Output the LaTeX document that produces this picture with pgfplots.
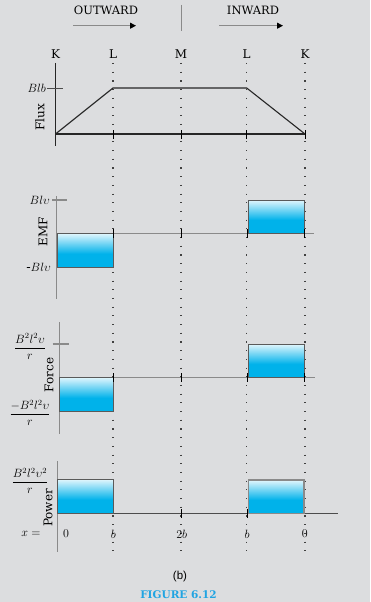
\documentclass[border=0pt]{standalone}
\usepackage{amsmath}
\usepackage{pgfplots}
\pgfplotsset{compat=1.18}
\usepackage{fontspec}
\setmainfont{DejaVu Serif}
\newfontfamily\sansf{Liberation Sans}
\usetikzlibrary{arrows.meta}
\definecolor{bgc}{HTML}{DCDDDF}
\definecolor{axg}{HTML}{8A8A8A}
\definecolor{edge}{HTML}{5A5A5A}
\definecolor{cL}{HTML}{E2F6FD}
\definecolor{cB}{HTML}{00B2EA}
\definecolor{figc}{HTML}{20A4E2}
\pgfdeclareverticalshading{barshade}{100bp}{color(0bp)=(cB); color(45bp)=(cB); color(75bp)=(cL); color(100bp)=(cL)}
\begin{document}
\begin{tikzpicture}
\begin{axis}[hide axis, scale only axis, width=370pt, height=602pt,
  xmin=0, xmax=370, ymin=0, ymax=602, y dir=reverse, clip=false,
  unbounded coords=jump]
\fill[bgc] (0,0) rectangle (370,602);
% header
\addplot[axg, line width=1pt, -{Triangle[length=6pt,width=6pt,color=black]}] coordinates {(73,25.7)(136,25.7)};
\addplot[axg, line width=1pt, -{Triangle[length=6pt,width=6pt,color=black]}] coordinates {(219,25.7)(283,25.7)};
\addplot[axg, line width=1pt] coordinates {(181,5)(181,31)};
\node[font=\fontsize{11.5}{13}\selectfont] at (106,10.7) {OUTWARD};
\node[font=\fontsize{11.5}{13}\selectfont] at (253,10.7) {INWARD};
\node[font=\fontsize{12}{14}\selectfont] at (55.7,54) {K};
\node[font=\fontsize{12}{14}\selectfont] at (113,54) {L};
\node[font=\fontsize{12}{14}\selectfont] at (181,54) {M};
\node[font=\fontsize{12}{14}\selectfont] at (246.7,54) {L};
\node[font=\fontsize{12}{14}\selectfont] at (305,54) {K};
% dotted guides
\addplot[black!75, line width=1.1pt, dash pattern=on 1.1pt off 7.6pt] coordinates {(113,63)(113,553)};
\addplot[black!75, line width=1.1pt, dash pattern=on 1.1pt off 7.6pt] coordinates {(181,63)(181,553)};
\addplot[black!75, line width=1.1pt, dash pattern=on 1.1pt off 7.6pt] coordinates {(246.7,63)(246.7,553)};
\addplot[black!75, line width=1.1pt, dash pattern=on 1.1pt off 7.6pt] coordinates {(305,63)(305,553)};
% ---- Flux
\addplot[black!85, line width=1.1pt] coordinates {(55.5,63)(55.5,146)};
\addplot[black!70, line width=1pt] coordinates {(47,88)(63,88)};
\addplot[black!85, line width=1.1pt] coordinates {(55.5,134)(305,134)};
\addplot[black!85, line width=1.1pt] coordinates {(55.5,134)(113,88)(246.7,88)(305,134)};
\addplot[black, line width=1pt] coordinates {(113,130)(113,138.5) (nan,nan) (181,130)(181,138.5) (nan,nan) (246.7,130)(246.7,138.5) (nan,nan) (305,130)(305,138.5)};
\node[font=\fontsize{13}{15}\selectfont, anchor=east, inner sep=0pt] at (46,88) {$Blb$};
\node[font=\fontsize{12}{14}\selectfont, rotate=90] at (40,117) {Flux};
% ---- EMF
\addplot[axg, line width=1.2pt] coordinates {(56.7,196)(56.7,299)};
\addplot[axg, line width=1.2pt] coordinates {(52,200)(67,200)};
\addplot[axg, line width=1.3pt] coordinates {(56.7,233.3)(314,233.3)};
\addplot[shade, shading=barshade, draw=edge, line width=0.8pt] coordinates {(57,233.3)(57,267.3)(113.3,267.3)(113.3,233.3)(57,233.3)};
\addplot[shade, shading=barshade, draw=edge, line width=0.8pt] coordinates {(248.3,233.3)(248.3,200)(304,200)(304,233.3)(248.3,233.3)};
\addplot[black, line width=1pt] coordinates {(113,229)(113,238) (nan,nan) (181,229)(181,238) (nan,nan) (247,229)(247,238) (nan,nan) (304.5,229)(304.5,238)};
\node[font=\fontsize{13}{15}\selectfont, anchor=east, inner sep=0pt] at (50,200) {$Bl\upsilon$};
\node[font=\fontsize{13}{15}\selectfont, anchor=east, inner sep=0pt] at (51,267.5) {-$Bl\upsilon$};
\node[font=\fontsize{12}{14}\selectfont, rotate=90] at (43,232) {EMF};
% ---- Force
\addplot[axg, line width=1.2pt] coordinates {(59.3,322)(59.3,434)};
\addplot[axg, line width=1.2pt] coordinates {(52.7,344)(69,344)};
\addplot[axg, line width=1.3pt] coordinates {(59.3,377.3)(315,377.3)};
\addplot[shade, shading=barshade, draw=edge, line width=0.8pt] coordinates {(59.3,377.3)(59.3,411.7)(113,411.7)(113,377.3)(59.3,377.3)};
\addplot[shade, shading=barshade, draw=edge, line width=0.8pt] coordinates {(248.3,377.3)(248.3,344)(304.3,344)(304.3,377.3)(248.3,377.3)};
\addplot[black, line width=1pt] coordinates {(113,373)(113,382) (nan,nan) (181,373)(181,382) (nan,nan) (247,373)(247,382) (nan,nan) (304.5,373)(304.5,382)};
\node[font=\fontsize{12}{14}\selectfont, inner sep=0pt] at (30,346.5) {$\dfrac{B^2l^2\upsilon}{r}$};
\node[font=\fontsize{12}{14}\selectfont, inner sep=0pt] at (30,413) {$\dfrac{-B^2l^2\upsilon}{r}$};
\node[font=\fontsize{12}{14}\selectfont, rotate=90] at (49,375) {Force};
% ---- Power
\addplot[axg, line width=1.2pt] coordinates {(57.3,461)(57.3,552)};
\addplot[black!70, line width=1.3pt] coordinates {(57.3,513.3)(338,513.3)};
\addplot[shade, shading=barshade, draw=edge, line width=0.8pt] coordinates {(57.3,513.3)(57.3,479.3)(113.3,479.3)(113.3,513.3)(57.3,513.3)};
\addplot[shade, shading=barshade, draw=axg, line width=1.1pt] coordinates {(248.3,513.3)(248.3,480)(304,480)(304,513.3)(248.3,513.3)};
\addplot[black, line width=1pt] coordinates {(181,509)(181,518) (nan,nan) (247,509)(247,518)};
\node[font=\fontsize{12}{14}\selectfont, inner sep=0pt] at (30,481) {$\dfrac{B^2l^2\upsilon^2}{r}$};
\node[font=\fontsize{12}{14}\selectfont, rotate=90] at (48,508) {Power};
\node[font=\fontsize{13}{15}\selectfont] at (31,534) {$x=$};
\node[font=\fontsize{13}{15}\selectfont] at (66,534) {$0$};
\node[font=\fontsize{13}{15}\selectfont] at (113.3,534) {$b$};
\node[font=\fontsize{13}{15}\selectfont] at (181.7,534) {$2b$};
\node[font=\fontsize{13}{15}\selectfont] at (247,534) {$b$};
\node[font=\fontsize{13}{15}\selectfont] at (304.7,534) {$0$};
% caption
\node[font=\sansf\fontsize{11.5}{13}\selectfont] at (180,577) {(b)};
\node[font=\bfseries\fontsize{10.5}{12}\selectfont, text=figc] at (178.5,594.5) {FIGURE 6.12};
\end{axis}
\end{tikzpicture}
\end{document}
